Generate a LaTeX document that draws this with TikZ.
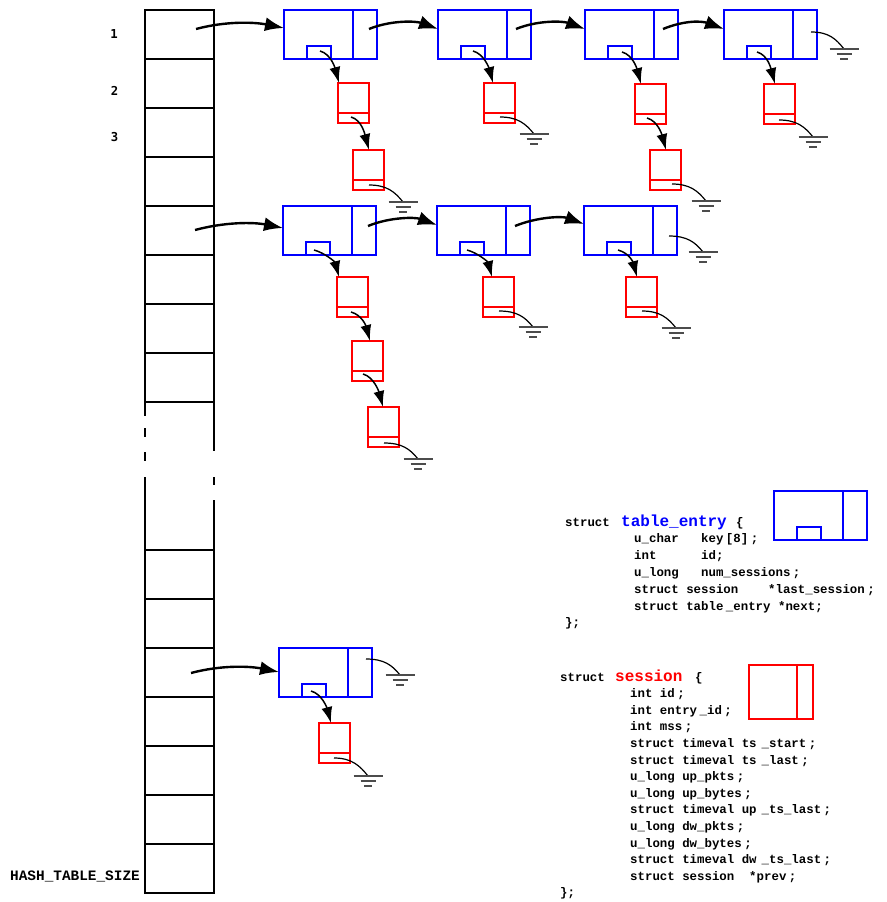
\documentclass[tikz,border=0pt]{standalone}
\usepackage{fontspec}
\newfontfamily\cfont{Liberation Mono}
\newfontfamily\dfont{DejaVu Sans Mono}
\usetikzlibrary{arrows.meta,calc}
\newcommand\gp{\hspace{2.5pt}}
\newcommand\gq{\hspace{5pt}}
\tikzset{
 tbl/.style={draw, line width=2.3pt, minimum width=69pt, minimum height=49pt, inner sep=0pt, outer sep=0pt, anchor=north west},
 ebox/.style={draw=blue, line width=2.3pt, minimum width=93pt, minimum height=49pt, inner sep=0pt, outer sep=0pt, anchor=north west},
 sbox/.style={draw=red, line width=2.3pt, minimum width=31pt, minimum height=40pt, inner sep=0pt, outer sep=0pt, anchor=north west},
 bline/.style={blue, line width=2.3pt},
 rline/.style={red, line width=2.3pt},
 harr/.style={-{Latex[length=19pt,width=14pt]}, line width=2.4pt},
 varr/.style={-{Latex[length=16pt,width=11pt]}, line width=1.5pt},
 gwire/.style={line width=1.2pt},
 gbar/.style={line width=1.8pt, black!70},
 code/.style={font={\cfont\bfseries\fontsize{12.4pt}{15pt}\selectfont}, inner sep=0pt, anchor=base west},
 codeh/.style={font={\cfont\bfseries\fontsize{16pt}{18pt}\selectfont}, inner sep=0pt, anchor=base west},
 lbl/.style={font={\dfont\bfseries\fontsize{12.3pt}{14pt}\selectfont}, inner sep=0pt},
 tsize/.style={font={\cfont\bfseries\fontsize{14.4pt}{16pt}\selectfont}, inner sep=0pt, anchor=base west},
}
\newcommand\entrybox[3]{%
 \node[ebox] (#1) at (#2,#3) {};
 \draw[bline] ([xshift=69pt]#1.north west) -- ([xshift=69pt]#1.south west);
 \draw[bline] ([xshift=23pt]#1.south west) rectangle ([xshift=47pt,yshift=13pt]#1.south west);
}
\newcommand\sessbox[3]{%
 \node[sbox] (#1) at (#2,#3) {};
 \draw[rline] ([yshift=10pt]#1.south west) -- ([yshift=10pt]#1.south east);
}
\newcommand\gnd[1]{%
 \draw[gbar] ($(#1)+(-14.5,0)$) -- ($(#1)+(14.5,0)$);
 \draw[gbar] ($(#1)+(-7.5,5)$) -- ($(#1)+(7.5,5)$);
 \draw[gbar] ($(#1)+(-4,10)$) -- ($(#1)+(4,10)$);
}
\newcommand\earth[4]{%
 \coordinate (#4s) at ($(#1.north west)+(#2)$);
 \coordinate (#4) at ($(#4s)+(#3)$);
 \draw[gwire] (#4s) .. controls +(18,0) and +(-8,-10) .. (#4);
 \gnd{#4}
}
\begin{document}
\begin{tikzpicture}[x=1pt,y=-1pt]
\useasboundingbox (0,0) rectangle (886,902);
% hash table
\foreach \i in {0,...,7} \node[tbl] (t\i) at (145,10+49*\i) {};
\foreach \i in {0,...,6} \node[tbl] (b\i) at (145,550+49*\i) {};
\draw[line width=2.3pt] (145,402) -- (145,416);
\draw[line width=2.3pt] (145,428) -- (145,437);
\draw[line width=2.3pt] (145,452) -- (145,461);
\draw[line width=2.3pt] (145,477) -- (145,550);
\draw[line width=2.3pt] (214,402) -- (214,451);
\draw[line width=2.3pt] (214,477) -- (214,485);
\draw[line width=2.3pt] (214,500) -- (214,550);
\node[lbl] (l1) at (114,34.5) {1};
\node[lbl] (l2) at (114.5,90.5) {2};
\node[lbl] (l3) at (114.5,137.5) {3};
\node[tsize] (lsz) at (10,880) {HASH\_TABLE\_SIZE};
% chain 1
\entrybox{E11}{284}{10}
\entrybox{E12}{438}{10}
\entrybox{E13}{585}{10}
\entrybox{E14}{724}{10}
\sessbox{S111}{338}{83}
\sessbox{S112}{353}{150}
\sessbox{S121}{484}{83}
\sessbox{S131}{635}{84}
\sessbox{S132}{650}{150}
\sessbox{S141}{764}{84}
\draw[harr] ($(t0.north west)+(51,19)$) .. controls +(30,-8) and +(-30,-6) .. ($(E11.north west)+(0,18)$);
\draw[harr] ($(E11.north west)+(85,19)$) .. controls +(22,-9) and +(-22,-8) .. ($(E12.north west)+(0,19)$);
\draw[harr] ($(E12.north west)+(78,19)$) .. controls +(22,-9) and +(-22,-8) .. ($(E13.north west)+(0,19)$);
\draw[harr] ($(E13.north west)+(78,19)$) .. controls +(22,-9) and +(-22,-8) .. ($(E14.north west)+(0,19)$);
\draw[varr] ($(E11.north west)+(36,41)$) .. controls +(11,3) and +(-4,-15) .. ($(S111.north west)+(1,0)$);
\draw[varr] ($(E12.north west)+(35,41)$) .. controls +(11,3) and +(-4,-15) .. ($(S121.north west)+(9,0)$);
\draw[varr] ($(E13.north west)+(37,42)$) .. controls +(11,3) and +(-4,-15) .. ($(S131.north west)+(6,0)$);
\draw[varr] ($(E14.north west)+(33,42)$) .. controls +(11,3) and +(-4,-15) .. ($(S141.north west)+(11,0)$);
\draw[varr] ($(S111.north west)+(13,34)$) .. controls +(11,3) and +(-4,-15) .. ($(S112.north west)+(16,0)$);
\draw[varr] ($(S131.north west)+(12,34)$) .. controls +(11,3) and +(-4,-15) .. ($(S132.north west)+(16,0)$);
\earth{E14}{87,22}{33,17}{G14}
\earth{S112}{16,35}{34,17}{G112}
\earth{S121}{16,34}{34,17}{G121}
\earth{S132}{22,34}{34,17}{G132}
\earth{S141}{15,36}{34,17}{G141}
% chain 2
\entrybox{E21}{283}{206}
\entrybox{E22}{437}{206}
\entrybox{E23}{584}{206}
\sessbox{S211}{337}{277}
\sessbox{S212}{352}{341}
\sessbox{S213}{368}{407}
\sessbox{S221}{483}{277}
\sessbox{S231}{626}{277}
\draw[harr] ($(t4.north west)+(50,24)$) .. controls +(30,-8) and +(-30,-6) .. ($(E21.north west)+(0,22)$);
\draw[harr] ($(E21.north west)+(85,20)$) .. controls +(22,-9) and +(-22,-8) .. ($(E22.north west)+(0,19)$);
\draw[harr] ($(E22.north west)+(78,20)$) .. controls +(22,-9) and +(-22,-8) .. ($(E23.north west)+(0,18)$);
\draw[varr] ($(E21.north west)+(31,44)$) .. controls +(11,3) and +(-4,-15) .. ($(S211.north west)+(2,0)$);
\draw[varr] ($(E22.north west)+(30,44)$) .. controls +(11,3) and +(-4,-15) .. ($(S221.north west)+(9,0)$);
\draw[varr] ($(E23.north west)+(34,44)$) .. controls +(11,3) and +(-4,-15) .. ($(S231.north west)+(11,0)$);
\draw[varr] ($(S211.north west)+(14,35)$) .. controls +(11,3) and +(-4,-15) .. ($(S212.north west)+(18,0)$);
\draw[varr] ($(S212.north west)+(11,33)$) .. controls +(11,3) and +(-4,-15) .. ($(S213.north west)+(15,0)$);
\earth{E23}{85,30}{34,16}{G23}
\earth{S213}{16,36}{34,16}{G213}
\earth{S221}{16,34}{34,16}{G221}
\earth{S231}{16,34}{34,17}{G231}
% chain 3
\entrybox{E31}{279}{648}
\sessbox{S311}{319}{723}
\draw[harr] ($(b2.north west)+(46,25)$) .. controls +(30,-8) and +(-30,-6) .. ($(E31.north west)+(0,24)$);
\draw[varr] ($(E31.north west)+(32,43)$) .. controls +(11,3) and +(-4,-15) .. ($(S311.north west)+(12,0)$);
\earth{E31}{87,11}{34,16}{G31}
\earth{S311}{15,35}{34,18}{G311}
% legend: table_entry
\entrybox{LTE}{774}{491}
\node[code] (te0) at (565,526) {struct};
\node[codeh, text=blue] (te0n) at (621,526) {table\_entry};
\node[code] (te0b) at (736,526) {\{};
\node[code] (te1) at (634,542.8) {u\_char~~~key\gp[8]\gp;};
\node[code] (te2) at (634,559.6) {int~~~~~~id;};
\node[code] (te3) at (634,576.4) {u\_long~~~num\_sessions\gp;};
\node[code] (te4) at (634,593.2) {struct~session~~~~*last\_session\gp;};
\node[code] (te5) at (634,610) {struct~table\gp\_entry~*next;};
\node[code] (te6) at (565,626.8) {\};};
% legend: session
\node[draw=red, line width=2.3pt, minimum width=64pt, minimum height=54pt, inner sep=0pt, outer sep=0pt, anchor=north west] (LS) at (749,665) {};
\draw[rline] ([xshift=48pt]LS.north west) -- ([xshift=48pt]LS.south west);
\node[code] (se0) at (560,681) {struct};
\node[codeh, text=red] (se0n) at (615,681) {session};
\node[code] (se0b) at (695,681) {\{};
\node[code] (se1) at (630,697.6) {int id\gp;};
\node[code] (se2) at (630,714.2) {int entry\gp\_id\gp;};
\node[code] (se3) at (630,730.8) {int mss\gp;};
\node[code] (se4) at (630,747.4) {struct timeval ts\gq\_start\gp;};
\node[code] (se5) at (630,764) {struct timeval ts\gq\_last\gp;};
\node[code] (se6) at (630,780.6) {u\_long up\_pkts\gp;};
\node[code] (se7) at (630,797.2) {u\_long up\_bytes\gp;};
\node[code] (se8) at (630,813.8) {struct timeval up\gq\_ts\_last\gp;};
\node[code] (se9) at (630,830.4) {u\_long dw\_pkts\gp;};
\node[code] (se10) at (630,847) {u\_long dw\_bytes\gp;};
\node[code] (se11) at (630,863.6) {struct timeval dw\gq\_ts\_last\gp;};
\node[code] (se12) at (630,880.2) {struct session~~*prev\gp;};
\node[code] (se13) at (560,896.8) {\};};
\end{tikzpicture}
\end{document}
